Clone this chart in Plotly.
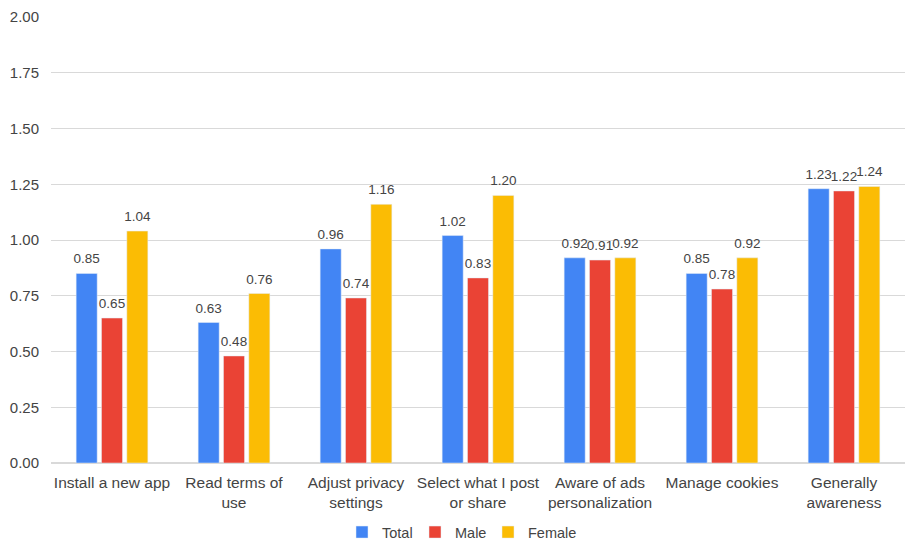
import plotly.graph_objects as go

categories = ["Install a new app", "Read terms of<br>use", "Adjust privacy<br>settings",
              "Select what I post<br>or share", "Aware of ads<br>personalization",
              "Manage cookies", "Generally<br>awareness"]
total = [0.85, 0.63, 0.96, 1.02, 0.92, 0.85, 1.23]
male = [0.65, 0.48, 0.74, 0.83, 0.91, 0.78, 1.22]
female = [1.04, 0.76, 1.16, 1.20, 0.92, 0.92, 1.24]

series = [("Total", total, "#4285F4", 28), ("Male", male, "#EA4335", 28),
          ("Female", female, "#FBBC04", 50)]

fig = go.Figure()
for i, (name, vals, col, lw) in enumerate(series):
    fig.add_trace(go.Bar(
        x=categories, y=vals, name=name, marker_color=col,
        offsetgroup=str(i), hoverinfo="skip", legendwidth=lw,
    ))
for i, (name, vals, col, lw) in enumerate(series):
    fig.add_trace(go.Scatter(
        x=categories, y=vals, mode="markers+text", offsetgroup=str(i),
        marker=dict(size=9, opacity=0, color=col),
        text=[f"{v:.2f}" for v in vals], textposition="top center",
        textfont=dict(size=13.5, color="#444444"), cliponaxis=False,
        showlegend=False, hoverinfo="skip",
    ))

fig.update_layout(
    width=910, height=543,
    margin=dict(l=51, r=5, t=17, b=80),
    paper_bgcolor="white", plot_bgcolor="white",
    font=dict(family="Liberation Sans, Arial, sans-serif", size=14, color="#444444"),
    barmode="group", bargap=0.377, bargroupgap=0.17,
    scattermode="group", scattergap=0.377,
    showlegend=True,
    legend=dict(orientation="h", x=342 / 910, xanchor="left", xref="container",
                y=0.02, yanchor="middle", yref="container",
                font=dict(size=14.5, color="#444444"), itemwidth=30, traceorder="normal"),
    xaxis=dict(showgrid=False, showline=False, ticks="", tickfont=dict(size=15.5),
               ticklabelstandoff=8),
    yaxis=dict(range=[0, 2], dtick=0.25, tickformat=".2f", showgrid=True,
               gridcolor="#D9D9D9", gridwidth=1, zeroline=True, zerolinecolor="#D9D9D9",
               zerolinewidth=1.5, ticks="", tickfont=dict(size=15), ticklabelstandoff=11),
)

fig.write_html("out.html")
